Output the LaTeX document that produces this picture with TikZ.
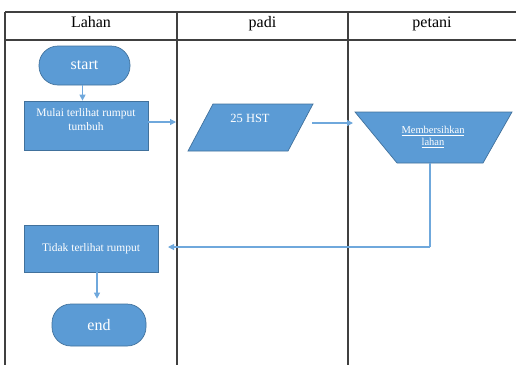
\documentclass[tikz,border=0pt]{standalone}
\usepackage{fontspec}
\setmainfont{Liberation Serif}
\usetikzlibrary{arrows.meta,shapes.geometric}
\definecolor{boxfill}{HTML}{5B9BD5}
\definecolor{boxline}{HTML}{41719C}
\definecolor{arrcol}{HTML}{6FA8DC}
\definecolor{gridcol}{HTML}{404040}
\tikzset{
  grid/.style={draw=gridcol, line width=1.1pt},
  hdr/.style={font=\fontsize{16}{18}\selectfont, anchor=base, inner sep=0pt},
  term/.style={draw=boxline, fill=boxfill, rounded corners=19pt, line width=0.7pt,
     text=white, font=\fontsize{16}{18}\selectfont, inner sep=0pt},
  proc/.style={draw=boxline, fill=boxfill, line width=0.7pt, inner sep=0pt},
  shapebox/.style={draw=boxline, fill=boxfill, line width=0.7pt},
  wtext/.style={text=white, align=center, inner sep=0pt},
  arr/.style={draw=arrcol, line width=1.1pt, -{Triangle[length=6pt,width=6pt]}},
  ln/.style={draw=arrcol, line width=1.1pt}
}
\begin{document}
\begin{tikzpicture}[x=1pt,y=-1pt]
\useasboundingbox (0,0) rectangle (516,365);
% swimlane table
\draw[grid] (5,12) -- (516,12);
\draw[grid] (5,40) -- (516,40);
\draw[grid] (5,12) -- (5,365);
\draw[grid] (177,12) -- (177,365);
\draw[grid] (348,12) -- (348,365);
\node[hdr] (hL) at (91,27) {Lahan};
\node[hdr] (hP) at (262.5,27) {padi};
\node[hdr] (hT) at (432,27) {petani};
% start
\node[term, minimum width=91pt, minimum height=39pt] (start) at (84.5,65.5) {start};
% Mulai terlihat rumput tumbuh
\node[proc, minimum width=124pt, minimum height=49pt] (mulai) at (86,125.5) {};
\node[wtext, font=\fontsize{11.5}{14}\selectfont] (mulaiT) at (86,120) {Mulai terlihat rumput\\tumbuh};
% 25 HST parallelogram
\draw[shapebox] (213,104) -- (313,104) -- (288,151) -- (188,151) -- cycle;
\node[inner sep=0pt, minimum width=100pt, minimum height=47pt] (hst) at (250.5,127.5) {};
\node[wtext, font=\fontsize{12.5}{14}\selectfont] (hstT) at (250,118) {25 HST};
% Membersihkan lahan trapezoid
\draw[shapebox] (355,112) -- (512,112) -- (483,163) -- (397,163) -- cycle;
\node[inner sep=0pt, minimum width=86pt, minimum height=51pt] (bersih) at (430,137.5) {};
\node[wtext, font=\fontsize{10.5}{11.5}\selectfont] (bersihT) at (433,137) {\underline{Membersihkan}\\\underline{lahan}};
% Tidak terlihat rumput
\node[proc, minimum width=134pt, minimum height=47pt, text=white, font=\fontsize{11.5}{13}\selectfont] (tidak) at (91,248.5) {Tidak terlihat rumput};
% end
\node[term, minimum width=94pt, minimum height=42pt] (end) at (99,325) {end};
% connectors
\coordinate (a1) at (176,122);
\coordinate (a2s) at (312,123);
\coordinate (a2) at (353,123);
\coordinate (bend) at (430,247);
\coordinate (a3) at (168,247);
\draw[arr] ([xshift=-2pt]start.south) -- ([xshift=-2pt]start.south |- mulai.north);
\draw[arr] (mulai.east |- a1) -- (a1);
\draw[arr] (a2s) -- (a2);
\draw[ln] (bersih.south) -- (bend);
\draw[arr] (bend) -- (a3);
\draw[arr] (tidak.south -| 97,0) -- ([yshift=5pt]end.north -| 97,0);
\end{tikzpicture}
\end{document}
